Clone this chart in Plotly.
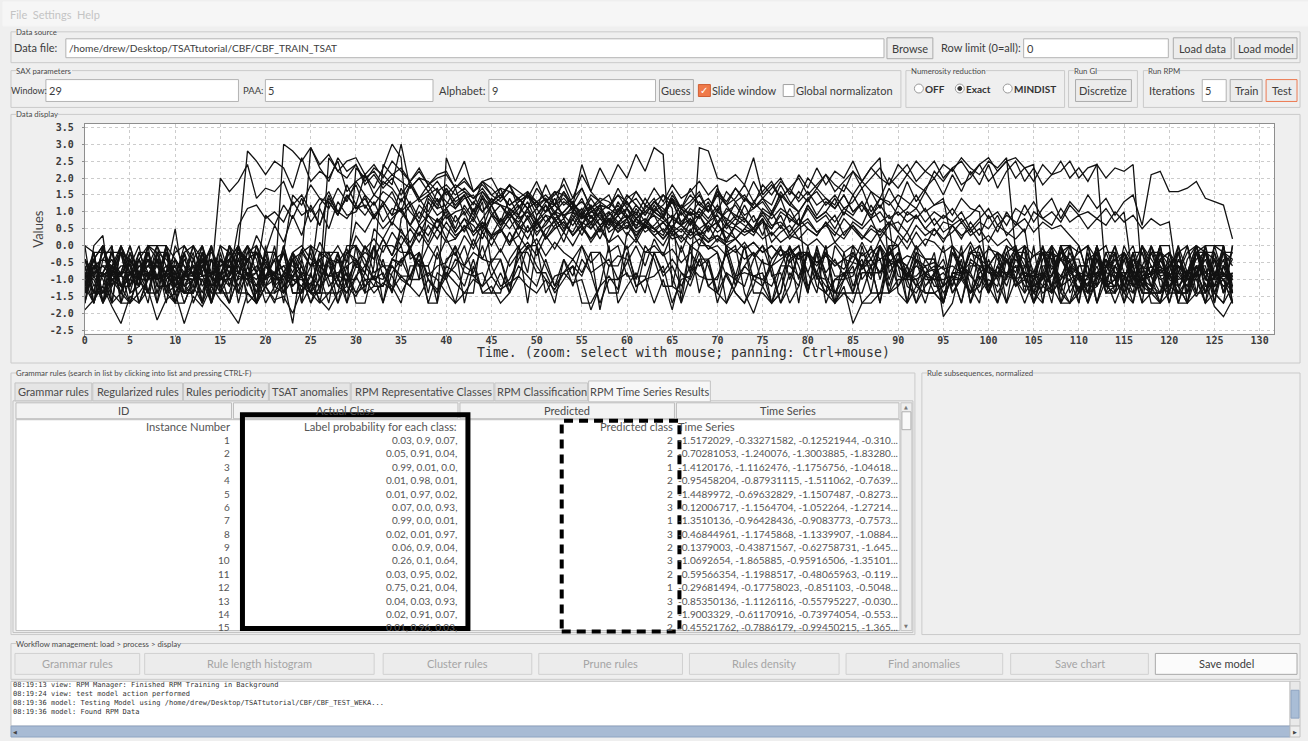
import plotly.graph_objects as go

# ---------------- DATA: 30 training series (CBF) ----------------
s01 = [-1.4,-0.9,-1.4,-0.8,0.0,-1.2,-0.6,-0.8,-1.0,-0.8,-0.2,0.0,-0.4,0.0,-1.0,2.0,
       1.6,1.9,2.4,1.4,1.7,1.6,1.9,1.2,1.5,1.0,1.4,1.3,0.9,1.5,1.1,1.2,
       0.8,1.3,0.9,1.1,0.6,1.0,0.7,0.5,0.9,0.4,0.8,0.3,0.6,0.2,0.5,0.1,
       0.3,-0.1,0.2,-0.3,0.1,-0.2,-0.4,0.0,-0.5,-0.2,-0.6,-0.3,-0.4,-1.2,-1.0,-0.2,
       -0.9,-0.6,-1.2,-0.6,-0.9,-1.0,-1.0,-0.2,-1.0,-1.2,-0.4,0.0,-0.8,-1.7,-1.2,-0.2,
       -0.2,-0.9,-1.4,0.0,-0.4,-1.4,-0.6,0.0,-1.0,0.0,0.0,-1.0,-0.4,-0.8,-1.4,-1.7,
       -0.8,-0.2,-1.2,-1.7,0.0,-0.4,-0.9,0.0,-0.9,-0.9,-0.8,0.0,-1.2,-1.0,-1.7,-0.4,
       -0.2,-1.4,-0.6,-0.9,-1.7,-0.6,-1.2,-0.2,-0.6,-1.2,-1.7,-0.2,0.0,0.0,-0.2,-0.6]
s02 = [-1.2,-0.2,-1.7,-1.0,-0.9,-0.2,-1.2,-0.8,-1.0,-0.9,-1.2,-1.4,-1.4,-0.4,-1.7,-0.6,
       -0.4,0.0,2.8,2.5,2.1,2.5,2.3,1.7,2.6,1.9,2.2,2.0,2.5,1.6,1.9,2.1,
       1.5,1.9,1.7,1.3,1.8,1.4,1.6,1.2,1.7,1.1,1.4,1.5,1.0,1.3,1.2,0.9,
       1.2,0.8,1.1,0.7,1.0,0.9,0.6,1.0,0.5,0.8,0.7,0.4,0.8,0.3,0.6,0.5,
       0.2,0.5,0.1,0.4,0.3,-0.1,0.2,0.0,-0.2,0.1,-0.3,0.0,-0.4,-0.1,-0.5,-0.2,
       -0.3,-0.6,-0.2,-0.5,-0.7,-0.3,-0.6,-0.4,-0.8,-0.5,-0.2,-1.2,-1.4,-0.9,-0.2,-1.7,
       -0.2,-0.6,-0.8,-1.4,-1.0,-1.2,-0.2,-1.2,-1.0,-1.7,-0.6,-0.6,-0.9,-0.4,-1.7,0.0,
       -1.0,-0.2,-0.9,-0.9,-0.6,-1.7,0.0,-0.8,-0.8,-1.7,-0.8,-0.2,-1.2,-1.2,-1.0,-1.4]
s03 = [-0.4,-1.2,-0.8,-1.0,-0.8,0.0,-0.9,-1.7,-0.2,-1.4,-1.2,-0.2,-0.9,-0.2,-1.4,-1.4,
       -1.4,-0.4,-0.9,-0.8,-1.7,-1.2,3.0,2.8,2.5,2.9,2.3,1.9,2.6,2.2,2.4,1.8,
       2.1,1.7,2.0,1.5,1.9,1.4,1.8,1.3,1.6,1.2,1.5,1.0,1.4,0.9,1.2,1.1,
       0.8,1.0,0.6,0.9,0.5,0.7,0.3,0.6,0.2,0.5,0.1,0.3,-0.1,0.2,-0.2,0.0,
       -0.3,-0.1,-0.5,-0.2,-0.6,-0.4,-0.2,-0.9,-1.4,-1.7,-1.2,-0.4,-1.7,-1.4,0.0,-1.0,
       -0.2,-0.8,-1.2,-1.4,-1.4,-1.7,-0.8,-0.8,-0.8,0.0,-0.6,-0.9,-0.9,-0.6,-1.2,-1.2,
       0.0,-0.9,-0.2,0.0,-0.8,-0.9,0.0,-1.0,-1.7,-1.0,-0.2,-1.4,0.0,-0.6,-0.9,-0.9,
       -1.2,-0.2,-0.2,-1.4,-1.7,0.0,-0.4,-0.8,-0.6,-0.6,-0.8,0.0,-1.0,-1.0,-0.9,-0.9]
s04 = [-0.6,-1.4,-1.2,-0.2,-0.9,-0.4,-0.8,-0.6,-0.9,-0.2,-1.2,-1.0,-1.0,-0.4,-0.2,-0.6,
       -0.6,-0.1,-0.5,0.3,-0.2,0.6,0.1,0.9,0.3,1.2,0.6,1.5,0.9,1.8,1.2,2.1,
       1.7,2.3,3.0,2.6,-0.4,-0.2,-1.0,-1.4,-0.6,-0.8,-1.2,-0.4,-1.4,-1.2,-1.7,-1.4,
       0.0,-1.7,0.0,-1.4,-0.9,-0.8,-0.6,-0.9,-0.2,-1.9,-0.6,-0.6,0.0,-1.2,-1.0,-0.9,
       -0.6,-1.7,-1.0,-0.9,-0.2,-0.6,-1.4,-1.7,-0.9,-0.8,-0.9,-1.0,-1.2,-0.6,-0.6,-0.9,
       -0.2,-1.2,-1.4,-1.0,-1.0,0.0,-1.0,-0.6,-1.7,-0.4,-1.2,-0.6,-1.7,-1.2,-0.9,0.0,
       -1.4,-0.9,-1.4,-1.2,-0.4,-1.0,-0.4,-1.2,-0.9,-0.8,-0.2,-0.4,-1.7,-1.7,-0.6,-0.6,
       -1.7,-0.6,-1.0,-1.4,-0.8,-0.8,-0.2,-0.2,-1.4,-0.4,-0.9,-0.2,-0.2,-1.4,-0.8,-1.2]
s05 = [-1.7,0.0,0.3,-1.7,0.0,-0.6,-1.2,-0.2,-1.2,0.0,-1.2,-0.8,-0.9,-1.7,0.0,-1.4,
       -0.4,-1.4,-0.8,-1.0,-0.6,-0.9,-1.0,-2.3,-0.4,2.9,2.4,2.7,2.2,2.5,2.6,2.1,
       2.4,2.0,2.5,2.2,1.9,2.3,1.8,2.1,2.2,1.7,2.0,1.6,1.9,2.0,1.5,1.8,
       1.6,1.4,1.9,1.3,1.6,1.5,1.2,1.7,1.1,1.4,1.3,1.0,1.5,1.2,0.9,1.3,
       1.1,0.8,1.2,0.9,1.0,0.7,1.1,0.6,0.9,0.8,0.5,1.0,0.6,0.7,0.4,0.8,
       0.5,0.3,0.7,0.4,0.2,0.6,0.3,0.1,0.5,0.2,0.0,0.4,-0.1,0.2,0.1,-0.2,
       0.0,-0.3,0.1,-0.4,-0.1,-0.2,-0.5,-0.1,-0.6,-0.3,-0.2,-0.7,-0.4,-0.5,-0.2,0.0,
       -1.2,-0.8,0.0,-1.7,-1.0,-0.6,-1.7,-1.7,-1.4,-1.4,-1.0,-1.0,-1.7,-0.8,-1.0,-1.7]
s06 = [-0.8,-0.9,-0.2,-0.2,-1.2,-1.7,-0.9,-0.6,-0.6,-0.8,-1.2,-1.4,-1.0,-0.2,-0.9,-1.4,
       -0.9,-0.6,0.0,-0.8,0.9,0.6,1.2,0.8,1.4,0.7,1.1,0.5,1.3,0.9,1.0,1.5,
       0.8,1.2,0.6,1.4,1.0,0.7,1.3,0.9,1.1,0.5,1.2,0.8,1.5,1.0,0.6,1.1,
       0.9,1.3,0.7,1.0,1.4,0.8,1.2,0.6,1.0,1.1,0.7,1.3,0.9,0.5,1.2,1.0,
       0.8,1.4,0.6,1.1,0.9,1.3,0.7,1.0,1.2,0.8,0.5,1.1,0.9,1.4,0.7,1.0,
       -1.4,0.0,-0.9,-1.4,-0.8,-1.4,-1.4,-0.6,-1.7,0.0,-0.9,-1.0,-1.0,-1.7,-0.8,-0.4,
       -1.2,-0.4,-1.7,-1.0,-0.6,-0.8,-0.4,-0.8,0.0,-0.8,0.0,-1.4,0.0,-0.8,-1.0,-1.7,
       0.0,-1.2,-1.4,-0.2,-0.6,-1.4,-1.4,-0.4,-1.0,-0.2,-1.4,0.0,-1.0,-1.2,-0.6,-1.4]
s07 = [-1.4,-0.4,0.0,-1.0,-1.4,-1.7,-0.8,-1.4,-1.4,-0.2,-0.8,-0.9,-0.2,-1.7,-0.4,-0.9,
       -0.9,0.6,1.1,1.2,0.8,1.0,0.7,1.3,0.9,1.1,0.6,1.4,1.0,0.8,1.2,0.9,
       1.3,0.7,1.1,1.0,0.6,1.2,0.9,1.4,0.8,1.0,1.1,0.7,1.3,-0.6,-1.2,-1.0,
       -0.4,0.0,0.0,-0.6,-1.2,-0.4,-0.9,0.0,-0.8,-0.6,-0.4,-1.0,-0.8,-1.4,-0.2,-0.2,
       -0.8,-0.4,-0.8,-1.2,-0.4,-1.2,-0.9,-0.2,0.0,-1.4,-2.0,-1.2,-0.4,0.0,-1.0,-0.2,
       -1.4,-0.2,-1.0,-1.7,-1.4,-1.4,0.0,-0.9,0.0,-1.4,-1.2,-0.8,-1.0,-0.8,-0.6,-1.2,
       0.0,-0.8,-1.4,-0.9,-1.4,-0.6,-0.9,-0.2,-1.0,-1.2,-1.0,0.0,-0.4,0.0,-0.2,0.0,
       -0.4,-1.2,-1.0,-0.2,-1.0,-1.0,-0.9,-0.6,-1.2,-1.4,-0.4,0.0,-1.4,-0.9,-0.2,-0.2]
s08 = [-1.2,-1.7,-0.8,-1.7,-1.4,-0.8,-0.4,-1.0,0.0,0.0,-1.0,0.0,-0.6,-0.9,-0.9,0.0,
       -0.9,-0.4,0.0,-1.7,-1.2,-0.2,-0.8,-0.9,-0.6,-1.4,-0.2,-0.4,-1.7,-1.0,-0.5,-0.2,
       -0.4,0.2,-0.3,0.5,-0.1,0.6,0.1,0.8,0.2,0.9,0.4,1.1,0.5,1.2,0.7,1.4,
       0.9,1.6,1.1,1.8,1.2,2.0,1.4,2.1,1.6,2.3,1.8,2.4,2.0,2.7,2.2,2.9,
       2.7,-1.2,0.0,-0.8,0.0,0.0,-0.2,-1.7,-1.2,-0.6,-0.2,-1.2,-0.6,-1.7,-0.8,-1.2,
       -0.2,-0.9,-1.0,-1.7,-0.2,-1.2,-0.6,-0.2,0.0,-0.4,-0.6,-1.7,-0.4,-1.4,-1.4,-1.2,
       -0.9,-1.0,-1.4,-0.8,-0.6,-0.2,-1.7,-0.2,-0.9,-1.4,-1.2,-0.2,-0.4,-0.9,-0.6,-0.6,
       -1.7,-1.0,-1.2,-0.2,-1.2,-1.0,-0.8,0.0,-1.7,-0.6,-0.9,-0.9,-0.2,-1.0,0.0,-1.7]
s09 = [-1.2,-0.4,-1.4,-1.0,-1.2,-1.2,-0.2,-0.8,-1.7,-0.8,0.5,-1.2,-1.4,-0.2,-1.7,-0.9,
       0.0,-0.8,-1.0,-0.8,-1.2,-1.7,-0.8,-0.9,-0.4,-1.4,-1.4,1.3,0.9,1.5,1.1,1.4,
       0.9,1.2,1.6,1.0,1.3,0.8,1.5,1.1,1.2,1.7,0.9,1.3,1.0,1.4,1.2,0.8,
       1.1,1.5,0.9,1.3,1.2,1.6,1.0,1.4,0.8,1.2,1.1,1.5,1.3,0.9,1.4,1.0,
       1.2,1.6,1.1,0.9,1.3,1.0,1.5,1.2,0.8,1.4,1.1,1.3,0.9,1.6,1.2,1.0,
       1.4,0.9,1.3,1.1,1.5,1.0,1.2,0.8,1.4,1.3,0.9,1.1,1.5,1.0,1.2,1.3,
       0.9,1.4,1.1,1.0,-1.4,-0.2,-0.9,-1.0,0.0,-1.4,-1.7,-0.4,-1.2,-1.7,-1.4,-0.9,
       -0.2,0.0,-0.8,-0.8,-0.8,-1.7,-1.4,-1.4,-1.2,-0.8,-0.2,0.0,-0.2,-0.9,0.0,-1.2]
s10 = [-1.2,-0.6,-0.9,-0.9,-0.6,-0.6,0.0,-1.4,-0.2,-1.0,-1.7,-1.0,0.0,-0.9,-0.8,-0.8,
       -0.4,0.0,-1.7,-1.4,-0.2,-0.2,-1.2,-0.9,-0.9,-1.4,-0.6,-0.9,-0.9,-1.0,-1.0,0.0,
       -0.8,-0.6,-0.6,-1.0,-1.2,-0.2,-0.9,-0.6,-0.5,0.0,-0.6,0.2,-0.4,0.3,-0.2,0.4,
       -0.1,0.6,0.0,0.5,0.7,0.1,0.8,0.3,0.9,0.4,1.0,0.6,0.5,1.1,0.7,1.2,
       0.8,1.4,0.9,1.2,1.5,1.0,1.6,1.2,1.7,1.3,1.9,1.4,1.7,2.0,1.5,2.1,
       1.7,2.3,1.8,2.2,2.0,2.5,1.9,2.3,2.6,-0.8,-0.4,-0.9,-0.2,-1.2,-0.8,-0.6,
       -1.4,-1.0,-0.2,-0.4,-0.6,-0.2,-0.4,-1.0,-1.4,0.0,-1.7,0.0,-1.4,-1.7,-1.2,-1.4,
       -0.4,-1.2,-1.2,0.0,-0.6,-0.6,-0.8,-0.2,-0.9,-0.6,-0.8,-0.9,-1.7,-1.4,-0.6,-0.2]
s11 = [-0.9,-1.0,-1.7,-0.6,-0.9,-1.0,-1.2,-0.2,-0.9,-0.6,-0.6,-1.2,-1.0,-0.9,-0.8,-0.9,
       -0.6,-1.2,-0.4,-1.7,-0.6,-1.0,0.0,-1.0,-1.0,-1.4,-1.0,-0.4,-1.2,-1.4,-0.9,-1.4,
       0.0,-0.9,-1.2,-1.7,-0.6,-0.6,-1.7,-1.7,-0.4,-0.2,-0.8,-0.9,-1.2,-0.4,-0.4,-1.4,
       -0.2,-0.2,-0.8,-0.8,-1.4,-1.0,-0.6,-1.7,-1.7,-1.2,0.0,-1.7,-1.2,-0.8,-1.4,-0.2,
       -0.2,-0.9,-1.7,-0.9,2.9,2.8,2.0,1.9,2.1,1.8,2.6,1.5,1.8,1.4,1.7,1.3,
       1.6,1.2,1.4,1.1,1.5,1.0,1.3,0.9,1.2,0.8,1.0,0.7,0.9,0.5,0.8,0.4,
       0.6,0.3,0.5,0.1,0.3,0.0,0.2,-0.2,0.0,-0.3,-0.1,-0.4,-0.2,-0.5,-0.8,-1.2,
       0.0,-1.2,-0.2,-1.2,-0.6,0.0,-0.6,-1.0,-0.9,-0.6,-1.0,-0.8,-1.4,-0.4,-1.4,0.0]
s12 = [-1.7,-0.6,-1.0,-1.7,0.0,-0.8,-1.2,0.0,-0.2,-0.4,-0.8,-1.7,-1.0,-0.8,-1.7,-1.0,
       -1.0,-1.4,-1.4,-1.7,-1.2,-0.8,-0.6,-0.6,-0.9,-1.7,-1.2,-0.2,-0.2,-0.9,-1.4,-0.8,
       0.0,-0.6,-0.9,-1.4,-0.9,-0.2,-1.0,-1.4,-0.9,0.0,-1.7,-0.6,-1.4,-1.4,-0.8,-1.4,
       -0.9,0.0,-0.6,-1.0,-1.7,-0.4,-1.2,-0.4,-0.8,-1.7,-1.0,-1.0,-0.5,0.0,-0.6,0.2,
       -0.3,0.4,-0.2,0.5,0.0,0.6,0.1,0.7,0.2,0.5,0.9,0.3,1.0,0.5,1.1,0.6,
       1.2,0.8,1.0,1.4,0.9,1.5,1.0,1.6,1.1,1.7,1.2,1.9,1.3,1.7,2.0,1.5,
       2.1,1.6,2.2,1.8,2.4,1.7,2.2,2.5,1.9,2.3,1.8,2.1,2.5,2.0,2.3,1.9,
       2.4,2.0,2.3,2.2,2.4,-1.0,-0.8,0.0,-1.4,0.0,-0.8,0.0,-0.8,-0.4,-0.8,-1.0]
s13 = [-0.4,-1.4,-1.4,-0.6,-0.2,-1.4,-1.2,0.0,-1.7,0.0,-0.4,-1.4,-1.4,-0.6,-1.2,-1.0,
       0.0,-1.4,-0.2,-0.2,-0.9,-0.8,-0.2,-1.4,-1.4,-0.8,-1.7,-1.4,-1.0,0.0,0.0,-0.4,
       -1.0,-1.2,-0.6,-0.9,-0.9,-0.4,-1.7,-0.8,-1.0,-0.4,-0.6,-0.8,0.0,-0.9,-0.4,-1.2,
       -0.6,-0.9,-1.2,-0.4,-1.2,-0.8,-0.4,-0.8,-0.2,-0.2,-1.4,-1.4,-0.2,-1.0,0.0,-0.4,
       -1.2,-1.2,-1.4,0.0,-0.2,-1.2,-1.4,0.0,-0.9,0.0,-1.4,-1.4,-1.7,-1.0,-0.2,-1.7,
       0.0,-1.0,-0.2,-0.9,-0.9,-0.5,0.1,-0.4,0.2,-0.3,0.3,-0.1,0.4,0.0,0.5,0.1,
       0.6,0.2,0.7,0.3,0.9,0.4,1.0,0.6,1.2,0.7,1.1,1.4,0.8,1.3,1.0,1.5,
       1.1,1.4,0.9,1.3,1.5,0.6,2.1,2.2,1.6,1.6,1.7,1.9,1.4,1.3,1.2,0.2]
s14 = [-0.6,-1.7,0.0,-0.8,-0.8,-1.7,-0.8,-0.2,-1.2,-1.2,-1.0,-1.4,-0.4,-1.2,-0.8,-1.0,
       -0.8,0.0,-0.9,-1.7,-0.2,-1.4,-1.2,-0.2,-0.9,-0.2,-1.4,-1.4,-1.4,-0.4,0.7,0.4,
       0.9,0.5,0.8,1.1,0.6,0.3,0.9,0.7,1.0,0.4,0.8,0.6,0.2,0.9,0.7,1.0,
       0.5,0.8,0.3,0.7,1.0,0.6,0.4,0.9,0.7,0.2,0.8,0.6,1.1,0.5,0.7,0.9,
       0.4,0.8,0.6,1.0,0.3,0.7,0.9,0.5,0.8,0.6,0.4,0.8,-0.9,-0.8,-1.7,-1.2,
       -0.2,-0.9,-1.4,-1.7,-1.2,-2.3,-1.7,-1.4,0.0,-1.0,-0.2,-0.8,-1.2,-1.4,-1.4,-1.7,
       -0.8,-0.8,-0.8,0.0,-0.6,-0.9,-0.9,-0.6,-1.2,-1.2,0.0,-0.9,-0.2,0.0,-0.8,-0.9,
       0.0,-1.0,-1.7,-1.0,-0.2,-1.4,0.0,-0.6,-0.9,-0.9,-1.2,-0.2,-0.2,-1.4,-1.7,0.0]
s15 = [-0.4,-0.8,-0.6,-0.6,-0.8,0.0,-1.0,-1.0,-0.9,-0.9,-0.6,-1.4,-1.2,-0.2,-0.9,-0.4,
       -0.8,-0.6,-0.9,-0.2,-1.2,-1.0,-1.0,-0.4,-0.2,-0.6,-0.4,-0.2,-1.0,-1.4,-0.6,-0.8,
       -1.2,-0.4,-1.4,0.8,1.2,0.6,0.9,0.5,1.1,0.7,1.0,0.4,0.8,1.2,0.6,0.9,
       0.7,1.1,0.5,0.9,0.8,0.4,1.0,0.6,1.2,0.8,0.5,0.9,1.1,0.7,0.6,1.0,
       0.8,0.5,1.1,0.7,0.9,0.4,1.0,0.8,0.6,1.2,0.7,0.9,0.5,1.0,0.8,0.6,
       1.1,0.7,0.9,0.5,1.0,0.8,0.6,1.2,0.7,0.9,0.4,1.0,0.8,1.1,0.6,0.9,
       0.7,1.0,0.5,0.8,1.1,0.6,0.9,0.7,0.4,1.0,0.8,0.6,1.1,0.7,0.9,0.5,
       0.8,0.6,1.0,0.7,0.9,0.5,0.8,0.6,0.7,-1.2,-1.7,-1.4,0.0,-1.7,0.0,-1.4]
s16 = [-0.9,-0.8,-0.6,-0.9,-0.2,-0.8,-0.6,-0.6,0.0,-1.2,-1.0,-0.9,-0.6,-1.7,-1.0,-0.9,
       -0.2,-0.6,-1.4,-1.7,-0.9,-0.8,-0.9,-1.0,-1.2,-0.6,-0.6,-0.9,-0.2,-1.2,2.3,2.0,
       2.2,1.8,2.1,1.9,1.7,2.0,1.6,1.9,1.5,1.8,1.6,1.4,1.7,1.3,1.5,1.2,
       1.4,1.1,1.3,1.0,1.2,0.9,1.1,0.8,1.0,0.9,0.6,0.9,0.5,0.8,0.6,0.4,
       0.7,0.3,0.5,0.2,0.4,0.1,0.3,0.0,0.2,-0.1,0.1,-0.2,0.0,-0.3,-0.1,-0.4,
       -0.2,-0.5,-0.3,-0.6,-0.4,-0.2,-0.7,-0.4,-0.8,-0.5,-0.6,-0.9,-0.6,-0.8,-0.7,-1.4,
       -1.0,-1.0,0.0,-1.0,-0.6,-1.7,-0.4,-1.2,-0.6,-1.7,-1.2,-0.9,0.0,-1.4,-0.9,-1.4,
       -1.2,-0.4,-1.0,-0.4,-1.2,-0.9,-0.8,-0.2,-0.4,-1.7,-1.7,-0.6,-0.6,-1.7,-0.6,-1.0]
s17 = [-1.4,-0.8,-0.8,-0.2,-0.2,-1.4,-0.4,-0.9,-0.2,-0.2,-1.4,-0.8,-1.2,-1.7,0.0,-1.2,
       -1.7,0.0,-0.6,-1.2,-0.2,-1.2,0.0,-1.2,-0.8,-0.9,1.2,1.6,1.0,1.4,1.8,1.1,
       1.5,1.3,0.9,1.7,1.2,1.4,1.0,1.6,1.3,1.1,1.5,0.9,1.4,1.2,1.7,1.0,
       1.3,1.5,1.1,1.4,0.9,1.6,1.2,1.0,1.5,1.3,1.1,1.7,1.2,1.4,1.0,1.3,
       1.5,1.1,-1.7,0.0,-1.4,-0.4,-1.4,-0.8,-1.0,-0.6,-0.9,-1.0,-0.6,-0.4,-0.2,0.0,
       -1.2,-0.8,0.0,-1.7,-1.0,-0.6,-1.7,-1.7,-1.4,-1.4,-1.0,-1.0,-1.7,-0.8,-1.0,-1.7,
       -0.8,-0.9,-0.2,-0.2,-1.2,-1.7,-0.9,-0.6,-0.6,-0.8,-1.2,-1.4,-1.0,-0.2,-0.9,-1.4,
       -0.9,-0.6,0.0,-0.8,-1.4,0.0,-0.9,-1.4,-0.8,-1.4,-1.4,-0.6,-1.7,0.0,-0.9,-1.0]
s18 = [-1.0,-1.7,-0.8,-0.4,-1.2,-0.4,-1.7,-1.0,-0.6,-0.8,-0.4,-0.8,0.0,-0.8,0.0,-1.4,
       0.0,-0.8,-1.0,-1.7,0.0,-1.2,-1.4,-0.2,-0.6,-1.4,-1.4,-0.4,-0.5,-0.1,-0.6,0.0,
       -0.4,0.2,-0.3,0.3,-0.1,0.4,0.0,0.5,0.1,0.2,0.6,0.0,0.7,0.3,0.4,0.8,
       0.3,0.9,0.4,0.6,1.0,0.5,0.8,1.1,0.6,1.2,0.7,1.0,1.3,0.8,1.1,1.4,
       0.9,1.5,1.1,1.3,1.6,1.0,1.7,1.2,1.4,1.8,1.3,1.6,1.9,1.4,1.7,2.0,
       1.5,1.8,2.1,1.6,1.9,2.2,1.7,2.0,2.3,1.8,2.1,2.4,1.9,2.2,2.5,2.0,
       2.3,2.5,2.1,2.4,2.6,2.2,2.5,2.6,2.3,2.4,-1.0,-0.2,-1.4,0.0,-1.0,-1.2,
       -0.6,-1.4,-1.4,-0.4,0.0,-1.0,-1.4,-1.7,-0.8,-1.4,-1.4,-0.2,-0.8,-0.9,-0.2,-1.7]
s19 = [-0.4,-0.9,-0.9,-0.6,-1.2,-1.0,-0.4,0.0,0.0,-0.6,-1.2,-0.4,-0.9,0.0,-0.8,-0.6,
       -0.4,-1.0,-0.8,-1.4,-0.2,-0.2,-0.8,-0.4,-0.8,-1.2,-0.4,-1.2,-0.9,-0.2,0.0,-1.4,
       -1.2,-1.2,-0.4,0.0,-1.0,-0.2,-1.4,-0.2,-1.0,-1.7,-1.4,-1.4,0.6,0.3,0.8,0.5,
       0.9,0.4,0.7,0.2,0.6,0.8,0.3,0.7,0.5,1.0,0.4,0.6,0.8,0.2,0.7,0.5,
       0.3,0.8,0.6,0.4,0.9,0.5,0.7,0.2,0.6,0.8,0.4,0.7,0.5,0.9,0.3,0.6,
       0.8,0.4,0.6,0.9,0.3,0.7,0.5,0.8,0.2,0.6,0.7,0.4,0.9,0.5,0.3,0.7,
       0.6,0.8,0.4,0.7,0.5,0.9,0.3,0.6,0.8,0.4,0.7,0.5,0.6,0.3,0.0,-0.9,
       0.0,-1.4,-1.2,-0.2,-0.8,-0.2,-0.9,-1.7,-0.4,-1.0,-0.9,-0.6,-0.9,-1.4,-1.7,-1.2]
s20 = [-1.7,-0.6,-0.4,-0.6,-1.4,-0.8,-1.0,-0.4,-1.0,-0.8,-0.6,-0.6,-1.4,-0.6,-0.4,-1.2,
       -1.7,-0.9,0.0,-0.4,-1.4,-1.4,-0.8,-0.2,-1.7,-1.2,-0.2,-1.0,-1.7,-0.6,-1.7,-1.7,
       -0.6,2.4,2.1,2.3,1.9,2.2,1.8,2.0,2.1,1.7,1.9,1.6,1.8,1.5,1.7,1.6,
       1.4,1.6,1.3,1.5,1.2,1.4,1.1,1.3,1.0,1.2,1.1,0.9,1.1,0.8,1.0,0.9,
       0.7,0.9,0.6,0.8,0.5,0.7,0.4,0.6,0.5,0.3,0.5,0.2,0.4,0.1,0.3,0.2,
       0.0,0.2,-0.1,0.1,-0.2,0.0,-0.3,-0.1,-0.4,-0.2,-0.5,-0.3,-0.4,-0.6,-0.5,-0.7,
       -0.6,-0.8,-0.5,-0.7,-1.2,-0.9,-0.2,0.0,-0.9,-1.4,-0.4,0.0,-1.7,-1.2,-0.8,-1.7,
       -0.8,-0.8,-0.9,-1.7,-0.4,-0.6,0.0,-1.2,-1.4,-0.2,-1.0,-0.8,0.0,-1.0,-0.4,-1.4]
s21 = [-1.0,-0.4,0.0,-1.4,-1.7,-1.7,-1.4,-1.0,-0.4,-1.4,0.0,-0.6,-0.8,-1.4,-0.4,-0.9,
       -0.6,-0.8,-0.4,-0.2,-0.5,-0.9,-0.2,-0.8,-0.1,-0.6,0.1,-0.4,0.0,-0.5,0.3,-0.1,
       0.2,-0.2,0.4,0.0,0.5,0.1,0.6,0.2,0.7,0.3,0.5,0.8,0.4,0.9,0.5,1.0,
       0.6,1.1,0.7,1.2,0.8,1.0,1.3,0.9,1.4,1.0,1.2,1.5,1.1,1.6,1.2,1.7,
       1.3,1.8,1.4,1.6,1.9,1.5,1.8,-0.2,-1.2,0.0,-1.0,-1.2,-1.7,-1.4,-0.4,-0.2,
       -0.8,-1.4,0.0,-1.4,-1.0,-0.9,-0.2,-0.6,-0.4,-1.4,-0.4,-0.6,0.0,-1.0,-1.0,-0.8,
       -1.2,0.0,-1.7,-0.6,-1.4,-0.8,-0.8,-1.0,0.0,-1.7,-0.9,-0.9,0.0,-0.9,-1.4,-0.4,
       -0.4,-0.6,-0.2,-1.2,-0.4,-0.9,-0.6,-0.9,-1.7,-0.8,0.0,-1.4,-0.2,-0.4,-1.4,-0.8]
s22 = [-1.4,-0.2,-0.2,-0.2,-1.2,-0.8,-0.9,0.0,-0.4,-1.4,-0.8,-0.2,0.0,-0.4,-1.2,0.0,
       -0.2,-1.7,-0.6,-1.4,-0.9,-0.4,-0.2,1.5,1.2,1.8,1.4,1.1,1.7,1.3,1.9,1.5,
       1.2,1.6,1.4,1.0,1.8,1.3,1.5,1.7,1.1,1.4,1.6,1.2,1.9,1.5,1.3,1.6,
       1.4,1.1,1.7,1.3,1.5,1.8,1.2,2.4,1.6,1.3,-0.2,0.0,-0.9,-0.9,-0.9,-1.7,
       -1.0,-1.9,-0.8,-1.0,-0.4,-0.4,-1.7,-0.8,-1.4,-1.7,-0.9,-0.8,-1.7,-0.6,0.0,-0.6,
       -1.4,-0.2,-1.7,-1.0,-0.8,-0.8,-0.4,-1.4,-1.4,-0.2,0.0,-1.7,-1.2,-0.9,-1.0,-1.0,
       -0.9,-1.7,-0.6,-0.6,-0.8,-0.8,-1.0,-0.2,-0.4,-1.4,-0.8,-1.2,-0.9,-1.0,-0.8,-1.4,
       -0.4,-0.6,-0.6,-1.2,-1.4,-1.0,-1.2,-1.4,-0.6,-0.2,-1.0,-0.9,-0.4,-1.2,-0.2,-0.4]
s23 = [0.0,-0.2,-1.7,0.0,-1.7,-0.2,-0.8,-0.9,-1.0,-0.8,-1.4,-0.9,-1.0,-1.0,-1.7,-0.4,
       -0.6,-0.8,-1.0,0.0,-0.6,-0.8,-1.4,-1.0,-0.2,0.0,-0.8,-0.9,-0.8,-0.6,-0.4,-1.0,
       -1.0,-0.8,-1.4,-0.4,-0.2,-0.6,-0.6,-1.7,2.6,1.9,2.5,1.6,1.9,1.7,1.4,1.8,
       1.3,1.5,1.2,1.4,1.0,1.3,1.1,0.9,1.2,0.8,1.0,0.7,0.9,0.6,0.8,0.5,
       0.7,0.4,0.6,0.3,0.5,0.2,0.3,0.1,0.2,-0.1,0.1,-0.2,0.0,-0.3,-0.1,-0.4,
       -0.2,-0.5,-0.3,-0.6,-0.4,-0.5,-0.6,-1.0,0.0,-1.2,-0.4,-1.0,0.0,-0.4,-0.8,-1.7,
       -0.2,-0.8,-0.2,-0.4,-1.2,-0.6,-1.2,-0.4,-0.8,-0.9,-1.4,-1.2,0.0,0.0,-1.0,-1.0,
       0.0,-1.0,-0.6,-0.2,-0.9,-0.9,-1.4,-1.4,-0.2,-1.2,-0.8,-1.4,-1.4,-0.2,-0.9,-0.4]
s24 = [0.0,-1.7,-0.4,0.0,-1.7,-1.0,-0.4,-1.4,-0.4,-1.7,-0.4,-0.9,-0.8,0.0,-1.7,-0.2,
       -1.2,-0.2,-0.9,-0.6,-1.0,-0.8,-0.6,-1.0,-1.2,-1.4,-1.7,-0.4,-0.9,-1.7,0.0,-0.6,
       -1.0,0.0,0.0,-0.2,-0.2,-0.6,-0.6,0.0,-0.9,-0.6,0.0,-0.9,-0.8,-1.4,-1.4,-0.4,
       0.0,-0.8,0.9,1.2,0.7,1.0,1.3,0.8,1.1,0.6,0.9,1.2,0.8,1.0,0.5,1.1,
       0.9,1.3,0.7,1.0,0.8,1.2,0.6,1.1,0.9,0.7,1.3,1.0,0.8,1.1,0.9,0.6,
       1.2,0.8,1.0,0.7,1.1,0.9,1.3,0.8,1.0,0.6,1.2,0.9,1.1,0.7,1.0,0.8,
       1.1,0.7,0.9,1.2,0.8,1.0,0.6,1.1,0.9,1.3,0.8,1.0,0.7,1.2,0.9,1.0,
       0.8,1.1,0.7,1.0,-1.0,-1.0,-0.9,-0.4,-0.2,-0.6,-1.4,-0.8,-0.2,-0.8,-1.0,-1.7]
s25 = [-0.9,-0.2,-1.7,-0.8,-0.2,-0.9,-0.2,-0.2,-1.0,0.0,-1.7,-0.8,-0.6,-0.6,0.0,-0.9,
       -1.2,-0.4,-1.2,0.0,-0.6,-1.0,-0.9,-1.2,-0.9,-1.7,-0.9,-1.7,-0.2,-1.7,-0.9,-0.6,
       0.0,-1.7,-0.4,-0.5,-0.1,-0.6,0.0,-0.4,0.2,-0.3,0.3,-0.1,0.4,0.0,0.5,0.1,
       0.6,0.2,0.7,0.3,0.8,0.4,0.9,0.5,0.7,1.0,0.6,1.1,0.8,1.2,0.9,1.3,
       1.0,1.4,1.1,1.5,1.2,1.0,1.6,1.3,1.7,1.4,1.2,1.8,1.5,1.9,1.6,1.4,
       2.0,1.7,2.1,1.8,1.6,2.2,1.9,2.3,2.0,1.8,2.4,2.1,2.5,2.2,2.0,2.4,
       2.2,2.6,2.3,2.1,2.5,2.3,2.6,-0.2,-1.4,-1.0,-0.2,-0.2,-1.2,-0.6,-1.4,-0.2,
       -1.7,-0.6,-0.4,-1.0,-0.2,-0.2,-1.2,-1.7,-0.6,-0.2,0.0,-0.9,-0.2,-0.2,-1.4,-0.9]
s26 = [-0.8,-1.4,0.0,-1.2,-0.8,-0.8,-1.0,-0.4,-0.6,-1.2,-1.7,-1.7,-1.0,-0.4,-1.2,-0.8,
       -1.7,-0.9,-1.0,-1.2,-0.6,-0.9,-0.2,-1.4,-1.4,-0.9,-1.2,-0.9,-0.4,-1.2,-0.4,-0.8,
       0.5,0.2,0.7,0.4,0.1,0.6,0.3,0.8,0.5,0.2,0.6,0.4,0.7,0.3,0.5,0.0,
       0.6,0.4,0.8,0.2,0.5,0.7,0.3,0.6,0.1,0.5,0.8,0.4,0.6,0.3,0.7,0.5,
       0.2,0.6,0.4,0.8,0.3,0.5,0.7,0.1,0.6,0.4,0.5,0.8,0.3,0.6,0.2,0.5,
       0.7,0.4,0.6,0.3,0.8,0.5,0.2,0.6,0.4,0.7,-1.4,-1.7,-0.2,-0.4,-0.4,-2.1,
       -1.7,-0.6,-1.4,-0.2,-1.4,-0.6,0.0,-0.2,-0.2,-1.7,-0.8,-1.7,-0.2,-0.4,-0.4,-1.4,
       -0.2,-1.2,-0.2,-1.4,-0.2,-1.2,-0.2,-0.9,-0.8,0.0,-1.7,-0.9,-0.8,-1.2,-1.0,-0.8]
s27 = [-1.0,-0.6,-1.7,-1.2,-0.2,-0.4,-0.9,-0.4,-1.4,-1.0,-0.8,-1.2,-0.6,-0.6,-1.2,-0.9,
       0.0,-0.4,-0.4,-0.8,-0.4,-1.2,-0.9,-0.4,-1.7,0.0,-1.0,2.6,2.2,2.0,2.4,1.9,
       2.3,2.1,1.8,3.0,1.7,2.0,1.9,1.6,1.8,1.5,1.7,1.4,1.6,1.3,1.5,1.2,
       1.4,1.1,1.3,1.0,1.2,0.9,1.0,0.8,0.9,0.6,0.8,0.5,0.7,0.4,0.6,0.3,
       0.5,0.2,0.3,0.0,0.2,-0.1,0.0,-0.3,-0.1,-0.4,-0.2,-0.5,-0.6,-0.1,-0.3,0.0,
       -0.8,-0.1,-0.8,-0.4,-0.9,-0.2,-0.6,-0.6,0.0,-0.6,-0.4,-0.6,-1.2,-0.4,-0.4,-1.2,
       -0.9,-1.7,-0.4,-0.6,-0.6,-1.0,-1.7,-1.0,-0.8,-1.0,-0.8,-0.9,-0.4,-0.8,0.0,-0.9,
       -0.8,-0.4,-1.4,-1.0,-0.2,-1.2,-1.4,-0.4,-0.2,-0.8,-1.2,-0.8,-1.4,-0.6,-0.6,-0.9]
s28 = [-1.2,-0.4,-0.9,-0.6,0.0,-0.6,-1.7,-0.9,-0.4,-1.4,-1.7,-0.2,-1.7,-1.0,-0.9,-1.2,
       -0.9,-0.2,-0.4,-0.2,-1.0,0.0,-1.4,-0.4,-1.4,0.0,-0.2,-0.2,-1.0,-0.2,-0.4,-1.2,
       -0.9,-1.7,-0.8,-0.4,-1.0,-1.0,1.4,1.1,1.7,1.3,1.5,1.0,1.6,1.2,1.4,1.8,
       1.1,1.5,1.3,1.0,1.6,1.2,1.4,1.7,1.1,1.3,1.5,0.9,1.4,1.6,1.2,1.0,
       1.5,1.3,1.1,1.7,1.2,1.4,1.0,1.6,1.3,1.5,1.1,1.4,1.2,1.8,1.3,1.0,
       1.4,1.6,1.2,1.5,1.1,1.3,1.7,1.0,1.4,1.2,1.5,1.3,1.1,1.6,1.2,1.4,
       0.0,-0.6,-0.9,-1.2,-0.6,-1.4,-0.9,-0.2,-0.9,-0.9,-0.2,-1.2,-1.7,-0.6,-0.8,-1.7,
       -1.0,-0.4,-0.8,-0.9,-1.2,0.0,-0.9,0.0,0.0,-1.7,-0.9,-0.4,-0.2,-0.8,-1.2,-1.0]
s29 = [-0.6,-1.4,0.0,-0.8,-1.4,-0.4,-1.0,-1.4,-0.4,-0.8,-1.0,-0.9,-0.9,-1.0,-1.4,-0.4,
       -1.0,-0.8,-0.2,0.0,-1.0,-0.4,-1.7,-0.2,0.0,-0.4,-0.6,-0.6,-1.2,-0.8,-1.4,-1.2,
       -0.9,-1.0,-0.4,-0.6,0.0,-1.0,-0.8,-1.0,-1.4,-1.7,-0.6,-0.2,-0.4,-0.5,-0.1,-0.6,
       -0.2,0.1,-0.3,0.3,-0.1,0.4,0.0,0.5,0.2,0.6,0.1,0.7,0.3,0.8,0.4,0.6,
       0.9,0.5,1.0,0.6,1.1,0.8,1.2,0.7,1.3,0.9,1.1,1.4,1.0,1.5,1.2,1.6,
       1.3,1.7,1.4,1.2,1.8,1.5,1.9,1.6,1.4,2.0,1.7,2.1,1.8,1.6,2.2,1.9,
       2.3,1.8,2.0,2.4,1.9,2.2,2.5,2.0,2.3,1.9,2.4,2.1,2.2,2.5,2.0,2.3,
       2.4,-1.0,-0.4,-0.2,-0.8,-1.4,-1.4,0.0,-1.2,-0.8,-0.9,-0.2,-1.0,0.0,0.0,-1.4]
s30 = [-1.9,-1.6,-1.2,-1.8,-2.3,-1.5,-1.7,-1.3,-2.2,-1.6,-1.4,-2.3,-1.5,-1.8,-1.2,-1.6,
       -1.9,-2.3,-1.4,-1.7,-1.2,-1.6,-1.5,-2.0,-1.3,-1.1,-1.6,-1.9,-1.4,-1.2,-1.5,-1.0,
       -1.4,-1.1,-1.3,-0.9,-1.2,-1.5,-1.0,-1.3,-0.8,-1.1,-1.4,-1.0,-1.2,-0.9,-1.3,-1.1,
       -0.9,-1.2,-1.4,-1.0,-1.3,-0.8,-1.1,-1.0,-1.9,-1.2,-0.9,-1.3,0.4,0.1,0.6,0.3,
       0.0,0.5,0.2,0.7,0.3,0.1,0.6,0.4,0.2,0.5,0.3,0.8,0.1,0.4,0.6,0.2,
       0.5,0.3,0.7,0.1,0.4,0.6,0.2,0.5,0.3,0.7,0.4,0.1,0.6,0.3,0.5,0.2,
       0.4,0.7,0.3,0.5,0.1,0.6,0.4,0.2,0.5,-1.2,-0.9,-1.4,-1.0,-0.7,-1.3,-1.1,
       -0.8,-1.2,-1.0,-1.4,-0.9,-1.1,-1.3,-0.7,-1.0,-1.2,-0.9,-1.5,-1.1,-1.8,-2.1,-1.6]

series = [s01, s02, s03, s04, s05, s06, s07, s08, s09, s10, s11, s12, s13, s14, s15,
          s16, s17, s18, s19, s20, s21, s22, s23, s24, s25, s26, s27, s28, s29, s30]

x_ticks = [0, 5, 10, 15, 20, 25, 30, 35, 40, 45, 50, 55, 60, 65, 70, 75, 80, 85, 90, 95,
           100, 105, 110, 115, 120, 125, 130]
y_ticks = [-2.5, -2.0, -1.5, -1.0, -0.5, 0.0, 0.5, 1.0, 1.5, 2.0, 2.5, 3.0, 3.5]

# ---------------- DATA: results table ----------------
table_headers = ["ID", "Actual Class", "Predicted", "Time Series"]
instance_numbers = [1, 2, 3, 4, 5, 6, 7, 8, 9, 10, 11, 12, 13, 14, 15]
label_probs = ["0.03, 0.9, 0.07,", "0.05, 0.91, 0.04,", "0.99, 0.01, 0.0,", "0.01, 0.98, 0.01,",
               "0.01, 0.97, 0.02,", "0.07, 0.0, 0.93,", "0.99, 0.0, 0.01,", "0.02, 0.01, 0.97,",
               "0.06, 0.9, 0.04,", "0.26, 0.1, 0.64,", "0.03, 0.95, 0.02,", "0.75, 0.21, 0.04,",
               "0.04, 0.03, 0.93,", "0.02, 0.91, 0.07,", "0.01, 0.96, 0.03,"]
predicted_class = [2, 2, 1, 2, 2, 3, 1, 3, 2, 3, 2, 1, 3, 2, 2]
ts_preview = ["-1.5172029, -0.33271582, -0.12521944, -0.310...",
              "-0.70281053, -1.240076, -1.3003885, -1.83280...",
              "-1.4120176, -1.1162476, -1.1756756, -1.04618...",
              "-0.95458204, -0.87931115, -1.511062, -0.7639...",
              "-1.4489972, -0.69632829, -1.1507487, -0.8273...",
              "-0.12006717, -1.1564704, -1.052264, -1.27214...",
              "-1.3510136, -0.96428436, -0.9083773, -0.7573...",
              "-0.46844961, -1.1745868, -1.1339907, -1.0884...",
              "-0.1379003, -0.43871567, -0.62758731, -1.645...",
              "-1.0692654, -1.865885, -0.95916506, -1.35101...",
              "-0.59566354, -1.1988517, -0.48065963, -0.119...",
              "-0.29681494, -0.17758023, -0.851103, -0.5048...",
              "-0.85350136, -1.1126116, -0.55795227, -0.030...",
              "-1.9003329, -0.61170916, -0.73974054, -0.553...",
              "-0.45521762, -0.7886179, -0.99450215, -1.365..."]

tab_names = ["Grammar rules", "Regularized rules", "Rules periodicity", "TSAT anomalies",
             "RPM Representative Classes", "RPM Classification", "RPM Time Series Results"]
workflow_buttons = ["Grammar rules", "Rule length histogram", "Cluster rules", "Prune rules",
                    "Rules density", "Find anomalies", "Save chart", "Save model"]
log_lines = ["08:19:13 view: RPM Manager: Finished RPM Training in Background",
             "08:19:24 view: test model action performed",
             "08:19:36 model: Testing Model using /home/drew/Desktop/TSATtutorial/CBF/CBF_TEST_WEKA...",
             "08:19:36 model: Found RPM Data"]

# ---------------- helpers (pixel -> paper) ----------------
W, H = 1308, 741
BG = '#efefef'
TXT = '#3c3c3c'
UIF = 'Lato'
shapes, annots = [], []

def X(p):
    return p / W

def Y(p):
    return 1 - p / H

def rect(x0, y0, x1, y1, fill='rgba(0,0,0,0)', line='#c8c8c8', lw=1, layer='below', dash=None):
    ln = dict(color=line, width=lw)
    if dash:
        ln['dash'] = dash
    shapes.append(dict(type='rect', xref='paper', yref='paper', x0=X(x0), x1=X(x1),
                       y0=Y(y1), y1=Y(y0), fillcolor=fill, line=ln, layer=layer))

def circle(cx, cy, r, fill='white', line='#9a9a9a'):
    shapes.append(dict(type='circle', xref='paper', yref='paper', x0=X(cx - r), x1=X(cx + r),
                       y0=Y(cy + r), y1=Y(cy - r), fillcolor=fill, line=dict(color=line, width=1),
                       layer='below'))

def text(x, y, s, size=11, color=TXT, anchor='left', family=UIF, bg=None, angle=0, weight='normal'):
    a = dict(xref='paper', yref='paper', x=X(x), y=Y(y), text=s, showarrow=False,
             xanchor=anchor, yanchor='middle', textangle=angle, borderpad=0, borderwidth=0,
             font=dict(size=size, color=color, family=family, weight=weight))
    if bg:
        a['bgcolor'] = bg
    annots.append(a)

def group(x0, y0, x1, y1, label):
    rect(x0, y0, x1, y1, line='#cacaca')
    text(x0 + 5, y0, label, size=7.8, color='#4a4a4a', bg=BG)

def field(x0, y0, x1, y1, val, size=11):
    rect(x0, y0, x1, y1, fill='white', line='#b3b3b3')
    text(x0 + 3, (y0 + y1) / 2, val, size=size)

def button(x0, y0, x1, y1, label, enabled=True, border='#ababab', fill='#ececec'):
    rect(x0, y0, x1, y1, fill=fill, line=border)
    text((x0 + x1) / 2, (y0 + y1) / 2, label, size=11, color=TXT if enabled else '#a5a5a5', anchor='center')

# ---------------- window chrome ----------------
rect(0, 0, W, 24, fill='#f6f6f6', line='#f6f6f6')
text(7, 13, "File  Settings  Help", size=11, color='#c4c4c4')

group(8, 30, 1300, 61, "Data source")
text(11, 46, "Data file:", size=11)
field(63, 37, 883, 56, "/home/drew/Desktop/TSATtutorial/CBF/CBF_TRAIN_TSAT", size=10.2)
button(886, 36, 932, 57, "Browse")
text(940, 46, "Row limit (0=all):", size=11)
field(1023, 37, 1168, 56, "0")
button(1173, 36, 1231, 57, "Load data")
button(1234, 36, 1297, 57, "Load model")

group(8, 69, 900, 106, "SAX parameters")
text(8, 89, "Window:", size=9)
field(43, 78, 236, 100, "29")
text(241, 89, "PAA:", size=9.5)
field(263, 78, 431, 100, "5")
text(437, 89, "Alphabet:", size=11)
field(487, 78, 654, 100, "9")
button(658, 78, 692, 100, "Guess")
rect(697, 83, 709, 95, fill='#ef7a4a', line='#cf5e33')
text(703, 89, "✓", size=10, color='white', anchor='center', family='DejaVu Sans', weight='bold')
text(711, 89, "Slide window", size=11)
rect(782, 83, 793, 95, fill='white', line='#a0a0a0')
text(795, 89, "Global normalizaton", size=11)

group(905, 69, 1064, 106, "Numerosity reduction")
circle(918, 87, 4.5)
text(924, 87, "OFF", size=10, weight='bold', color='#333333')
circle(959, 87, 4.5)
circle(959, 87, 2, fill='#333333', line='#333333')
text(965, 87, "Exact", size=10, weight='bold', color='#333333')
circle(1007, 87, 4.5)
text(1013, 87, "MINDIST", size=10, weight='bold', color='#333333')

group(1068, 69, 1137, 106, "Run GI")
button(1075, 78, 1131, 100, "Discretize")
group(1143, 69, 1300, 106, "Run RPM")
text(1149, 89, "Iterations", size=11)
field(1202, 78, 1226, 100, "5")
button(1230, 78, 1262, 100, "Train")
button(1266, 78, 1297, 100, "Test", border='#ec7a52')

group(8, 113, 1300, 363, "Data display")

# ---------------- grammar rules / table ----------------
group(8, 373, 914, 636, "Grammar rules (search in list by clicking into list and pressing CTRL-F)")
rect(10, 401, 912, 634, fill=BG, line='#c2c2c2')
tab_edges = [12, 90, 181, 267, 349, 493, 587, 709]
for i, name in enumerate(tab_names):
    x0, x1 = tab_edges[i], tab_edges[i + 1]
    active = (i == len(tab_names) - 1)
    if active:
        rect(x0, 381, x1, 402, fill='#f7f7f7', line='#c2c2c2')
    else:
        rect(x0, 383, x1 - 1, 401, fill='#e5e5e5', line='#c4c4c4')
    text((x0 + x1) / 2, 392, name, size=11, anchor='center', color='#4a4a4a')

col_edges = [(13, 229), (231, 456), (458, 673), (675, 898)]
for (x0, x1), h in zip(col_edges, table_headers):
    rect(x0, 403, x1, 419, fill='#f3f3f3', line='#bdbdbd')
    text((x0 + x1) / 2, 411, h, size=11, anchor='center', color='#4a4a4a')
rect(13, 420, 899, 632, fill='white', line='#bdbdbd')
rect(900, 403, 911, 632, fill='#eeeeee', line='#c4c4c4')
rect(901, 412, 910, 430, fill='#f9f9f9', line='#b0b0b0')
text(905.5, 407, "▲", size=5, color='#777777', anchor='center', family='DejaVu Sans')
text(905.5, 627, "▼", size=5, color='#777777', anchor='center', family='DejaVu Sans')

ROW0, DY = 427, 13.45
TL, TN = 11.2, 10
CELL = '#555555'
text(228, ROW0, "Instance Number", size=TL, anchor='right', color=CELL)
text(455, ROW0, "Label probability for each class:", size=TL, anchor='right', color=CELL)
text(672, ROW0, "Predicted class", size=TL, anchor='right', color=CELL)
text(677, ROW0, "Time Series", size=TL, anchor='left', color=CELL)
for i in range(len(instance_numbers)):
    yy = ROW0 + DY * (i + 1)
    text(228, yy, str(instance_numbers[i]), size=TN, anchor='right', color=CELL)
    text(455, yy, label_probs[i], size=TN, anchor='right', color=CELL)
    text(672, yy, str(predicted_class[i]), size=TN, anchor='right', color=CELL)
    text(677, yy, ts_preview[i], size=TN, anchor='left', color=CELL)

# highlight boxes
rect(240, 415, 466, 630, line='black', lw=5, layer='above')
rect(560, 421, 678, 633, line='black', lw=4, layer='above', dash='9px,6px')

group(921, 373, 1300, 636, "Rule subsequences, normalized")

# ---------------- workflow buttons ----------------
group(8, 645, 1300, 681, "Workflow management: load > process > display")
wb_edges = [(12, 137), (142, 372), (381, 530), (537, 681), (688, 838), (845, 1002), (1010, 1148), (1155, 1297)]
for (x0, x1), name in zip(wb_edges, workflow_buttons):
    en = (name == "Save model")
    button(x0, 655, x1, 676, name, enabled=en, border='#a9a9a9' if en else '#d0d0d0',
           fill='#fbfbfb' if en else '#ececec')

# ---------------- log ----------------
rect(8, 683, 1290, 728, fill='white', line='#c4c4c4')
rect(1290, 683, 1300, 728, fill='#e9e9e9', line='#c4c4c4')
rect(1291, 692, 1299, 720, fill='#a9bdd6', line='#8ea4c2')
rect(8, 728, 1290, 739, fill='#a8bbd4', line='#8ea4c2')
rect(1290, 728, 1300, 739, fill='#eeeeee', line='#c4c4c4')
text(12, 733.5, "◀", size=5, color='#444444', anchor='center', family='DejaVu Sans')
text(1295, 733.5, "▶", size=5, color='#444444', anchor='center', family='DejaVu Sans')
for i, ln in enumerate(log_lines):
    text(10, 687 + 9 * i, ln, size=7, color='#333333', family='DejaVu Sans Mono')

# ---------------- chart axis titles ----------------
text(35, 228, "Values", size=13, color='#444444', anchor='center', angle=-90, family=UIF)
text(682, 352, "Time. (zoom: select with mouse; panning: Ctrl+mouse)", size=13.2, color='#333333',
     anchor='center', family='DejaVu Sans Mono')

# ---------------- figure ----------------
fig = go.Figure()
for s in series:
    fig.add_trace(go.Scatter(x=list(range(len(s))), y=s, mode='lines',
                             line=dict(color='#121212', width=1.3),
                             hoverinfo='skip', showlegend=False))

axis_font = dict(family='DejaVu Sans Mono', size=10, color='#3a3a3a', weight='bold')
fig.update_layout(
    width=W, height=H, margin=dict(l=0, r=0, t=0, b=0),
    paper_bgcolor=BG, plot_bgcolor='white',
    xaxis=dict(domain=[X(82), X(1274)], range=[0, 131.6], tickvals=x_ticks,
               ticktext=[str(v) for v in x_ticks], showgrid=True, gridcolor='#cccccc',
               griddash='dot', gridwidth=1, zeroline=False, showline=True, mirror=True,
               linecolor='#8e8e8e', ticks='outside', ticklen=2, tickcolor='#8e8e8e',
               tickfont=axis_font, ticklabelstandoff=-5, fixedrange=True),
    yaxis=dict(domain=[Y(333.4), Y(122.6)], range=[-2.6, 3.6], tickvals=y_ticks,
               ticktext=['%.1f' % v for v in y_ticks], showgrid=True, gridcolor='#cccccc',
               griddash='dot', gridwidth=1, zeroline=False, showline=True, mirror=True,
               linecolor='#8e8e8e', ticks='outside', ticklen=2, tickcolor='#8e8e8e',
               tickfont=axis_font, ticklabelstandoff=6, fixedrange=True),
    shapes=shapes, annotations=annots, font=dict(family=UIF),
)

fig.write_html("out.html", config={'displayModeBar': False},
               post_script="document.body.style.margin='0px';document.body.style.overflow='hidden';")
